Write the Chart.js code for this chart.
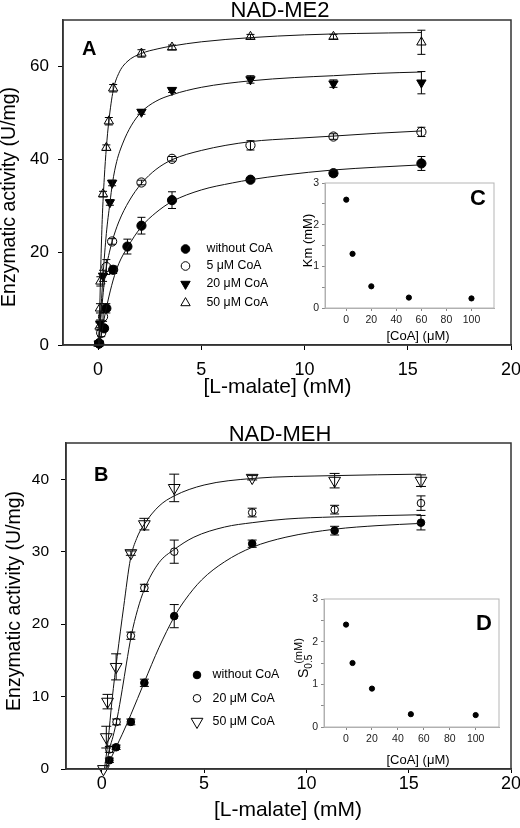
<!DOCTYPE html>
<html>
<head>
<meta charset="utf-8">
<script src="https://cdn.jsdelivr.net/npm/chart.js@4.4.0/dist/chart.umd.min.js"></script>
<style>
  html, body { margin: 0; padding: 0; background: #fff; }
  #wrap { position: relative; width: 520px; height: 828px; overflow: hidden; }
  canvas { position: absolute; }
</style>
</head>
<body>
<div id="wrap">
  <canvas id="chartA" width="520" height="400" style="left:0;top:0"></canvas>
  <canvas id="chartB" width="520" height="418" style="left:0;top:410px"></canvas>
  <canvas id="insetC" width="215" height="175" style="left:290px;top:175px"></canvas>
  <canvas id="insetD" width="215" height="180" style="left:290px;top:590px"></canvas>
</div>
<script>
const FONT = "'Liberation Sans', Arial, sans-serif";
Chart.defaults.font.family = FONT;
Chart.defaults.color = '#000';

// ---- Panel A: NAD-ME2 ----
const xTicksA = [0, 5, 10, 15, 20];
const yTicksA = [0, 20, 40, 60];

// without CoA
const a0X = [0.05, 0.29, 0.40, 0.73, 1.42, 2.1, 3.58, 7.38, 11.4, 15.66];
const a0Y = [0.3, 3.6, 7.9, 16.2, 21.2, 25.7, 31.2, 35.6, 37.0, 39.1];
const a0Err = [0.3, 0.6, 1.0, 0.8, 1.6, 1.8, 1.8, 0.4, 0.6, 1.5];
// 5 uM CoA
const a5X = [0.05, 0.15, 0.24, 0.40, 0.68, 2.1, 3.58, 7.38, 11.4, 15.66];
const a5Y = [0.4, 2.6, 6.1, 16.8, 22.3, 35.0, 40.1, 43.0, 44.9, 45.9];
const a5Err = [0.3, 0.8, 1.0, 1.6, 0.6, 0.5, 0.5, 1.0, 0.6, 1.0];
// 20 uM CoA
const a20X = [0.03, 0.1, 0.24, 0.57, 0.68, 2.1, 3.58, 7.38, 11.4, 15.66];
const a20Y = [0.3, 4.6, 14.9, 30.7, 34.9, 50.2, 54.9, 57.2, 56.3, 56.5];
const a20Err = [0.3, 0.8, 1.2, 0.6, 0.6, 0.5, 0.5, 0.8, 0.8, 2.4];
// 50 uM CoA
const a50X = [0.02, 0.07, 0.09, 0.11, 0.24, 0.40, 0.52, 0.73, 2.1, 3.58, 7.38, 11.4, 15.66];
const a50Y = [0.3, 4.0, 7.9, 13.7, 32.5, 42.5, 48.2, 55.3, 62.8, 64.1, 66.4, 66.4, 65.2];
const a50Err = [0.3, 0.8, 1.0, 1.0, 0.6, 0.6, 0.8, 0.8, 0.8, 0.5, 0.5, 0.5, 2.6];

// fitted curves
const a0FitX = [0.05, 0.15, 0.3, 0.45, 0.73, 1.0, 1.42, 2.1, 2.8, 3.58, 5, 6.5, 7.38, 9, 11.4, 13.5, 15.66];
const a0FitY = [0, 2.0, 5.8, 9.0, 14.0, 17.5, 21.0, 25.5, 28.5, 30.9, 33.4, 34.9, 35.6, 36.6, 37.7, 38.3, 38.8];
const a5FitX = [0.03, 0.1, 0.2, 0.3, 0.4, 0.55, 0.68, 1.0, 1.5, 2.1, 2.8, 3.58, 5, 7.38, 9.5, 11.4, 13.5, 15.66];
const a5FitY = [0, 4, 9, 13.5, 16.8, 20, 22.3, 26.5, 31, 34.8, 37.8, 39.9, 41.9, 43.8, 44.5, 45.0, 45.6, 46.1];
const a20FitX = [0.02, 0.1, 0.24, 0.4, 0.57, 0.7, 0.9, 1.2, 1.6, 2.1, 2.8, 3.58, 5, 7.38, 9.5, 11.4, 13.5, 15.66];
const a20FitY = [0, 5, 15, 24, 30.5, 35, 39.5, 43.5, 47.2, 50.2, 52.5, 53.9, 55.5, 56.9, 57.6, 58.0, 58.5, 58.8];
const a50FitX = [0.02, 0.08, 0.13, 0.2, 0.3, 0.4, 0.52, 0.73, 1.0, 1.4, 2.1, 2.9, 3.58, 5, 7.38, 10, 12.5, 15.66];
const a50FitY = [0, 8, 17, 27, 36, 42.5, 48.2, 54.8, 58.5, 61, 62.8, 63.8, 64.4, 65.3, 66.2, 66.8, 67.1, 67.3];

// ---- Panel B: NAD-MEH ----
const xTicksB = [0, 5, 10, 15, 20];
const yTicksB = [0, 10, 20, 30, 40];

const b0X = [0.37, 0.70, 1.42, 2.08, 3.54, 7.35, 11.38, 15.6];
const b0Y = [1.2, 3.0, 6.5, 11.9, 21.1, 31.1, 32.9, 34.0];
const b0Err = [0.3, 0.3, 0.4, 0.5, 1.6, 0.5, 0.6, 1.0];
const b20X = [0.37, 0.72, 1.42, 2.08, 3.54, 7.35, 11.38, 15.6];
const b20Y = [2.7, 6.5, 18.4, 25.0, 30.0, 35.4, 35.8, 36.7];
const b20Err = [0.4, 0.4, 0.5, 0.5, 1.6, 0.6, 0.6, 1.0];
const b50X = [0.08, 0.22, 0.28, 0.70, 1.42, 2.08, 3.54, 7.35, 11.38, 15.6];
const b50Y = [0, 4.4, 9.3, 14.1, 29.8, 33.8, 38.8, 40.2, 39.8, 39.8];
const b50Err = [0, 1.5, 1.0, 1.8, 0.3, 0.8, 1.9, 0.3, 1.0, 0.8];

const b0FitX = [0.22, 0.5, 0.73, 1.0, 1.42, 2.08, 2.8, 3.54, 4.06, 4.88, 6.0, 7.35, 9, 11.38, 13.5, 15.6];
const b0FitY = [0, 1.8, 3.2, 4.8, 7.5, 12.0, 16.8, 21.0, 23.3, 26.1, 28.6, 30.6, 32.0, 33.1, 33.6, 33.9];
const b20FitX = [0.2, 0.37, 0.55, 0.75, 1.0, 1.2, 1.44, 1.75, 2.08, 2.8, 3.54, 4.5, 6, 7.35, 9, 11.38, 15.6];
const b20FitY = [0, 2.7, 4.5, 7.0, 11, 14.5, 18.4, 22, 24.8, 28.5, 30.3, 32, 33.4, 34.0, 34.5, 34.8, 35.1];
const b50FitX = [0.13, 0.31, 0.5, 0.75, 1.07, 1.40, 1.7, 2.08, 2.8, 3.54, 5, 7.35, 11.38, 15.6];
const b50FitY = [0, 4, 9.5, 15.5, 22.4, 29.0, 31.8, 33.8, 36.3, 37.7, 39.2, 40.1, 40.5, 40.7];

// ---- Insets ----
const coaX = [0, 5, 20, 50, 100];
const kmC = [2.6, 1.3, 0.52, 0.25, 0.23];
const s05D = [2.4, 1.5, 0.9, 0.3, 0.28];
const insetXTicks = [0, 20, 40, 60, 80, 100];
const insetYTicks = [0, 0.5, 1, 1.5, 2, 2.5, 3];

function pairs(xs, ys) {
    return xs.map((x, i) => ({ x: x, y: ys[i] }));
}

function fitLine(xs, ys) {
    return {
        data: pairs(xs, ys),
        showLine: true,
        pointRadius: 0,
        borderColor: '#111',
        borderWidth: 1,
        cubicInterpolationMode: 'monotone'
    };
}

function points(xs, ys, errs, style) {
    return {
        data: pairs(xs, ys),
        errors: errs,
        capWidth: style.cap,
        showLine: false,
        pointStyle: style.shape,
        pointRotation: style.rotation || 0,
        pointRadius: style.radius,
        pointBackgroundColor: style.filled ? '#000' : 'rgba(0,0,0,0)',
        pointBorderColor: '#000',
        pointBorderWidth: 1,
        clip: false
    };
}

// fixes axis size so the plot box lands where the figure has it
function boxAxis(size, horizontal) {
    return function(scale) {
        if (horizontal) {
            scale.height = size;
            scale.paddingLeft = 0;
            scale.paddingRight = 0;
        } else {
            scale.width = size;
            scale.paddingTop = 0;
            scale.paddingBottom = 0;
        }
    };
}

function setTicks(values) {
    return function(scale) {
        scale.ticks = values.map(v => ({ value: v }));
    };
}

const frame = (color, width) => ({
    id: 'frame',
    afterDraw(chart) {
        const a = chart.chartArea, ctx = chart.ctx;
        ctx.save();
        ctx.strokeStyle = color;
        ctx.lineWidth = width;
        ctx.strokeRect(a.left, a.top, a.right - a.left, a.bottom - a.top);
        ctx.restore();
    }
});

const errorBars = {
    id: 'errorBars',
    beforeDatasetsDraw(chart) {
        const ctx = chart.ctx, xs = chart.scales.x, ys = chart.scales.y;
        chart.data.datasets.forEach(ds => {
            if (!ds.errors) return;
            ctx.save();
            ctx.strokeStyle = '#000';
            ctx.lineWidth = 1;
            ds.data.forEach((p, i) => {
                const e = ds.errors[i];
                if (!e) return;
                const px = xs.getPixelForValue(p.x);
                const top = ys.getPixelForValue(p.y + e);
                const bot = ys.getPixelForValue(p.y - e);
                const c = ds.capWidth / 2;
                ctx.beginPath();
                ctx.moveTo(px, top); ctx.lineTo(px, bot);
                ctx.moveTo(px - c, top); ctx.lineTo(px + c, top);
                ctx.moveTo(px - c, bot); ctx.lineTo(px + c, bot);
                ctx.stroke();
            });
            ctx.restore();
        });
    }
};

function textLayer(items) {
    return {
        id: 'textLayer',
        afterDraw(chart) {
            const ctx = chart.ctx;
            items.forEach(it => {
                ctx.save();
                ctx.fillStyle = '#000';
                ctx.font = it.font + ' ' + FONT;
                ctx.textAlign = it.align || 'center';
                ctx.textBaseline = it.baseline || 'alphabetic';
                ctx.translate(it.x, it.y);
                if (it.rotate) ctx.rotate(-Math.PI / 2);
                ctx.fillText(it.text, 0, 0);
                ctx.restore();
            });
        }
    };
}

function markerLegend(items, textX, font) {
    return {
        id: 'markerLegend',
        afterDraw(chart) {
            const ctx = chart.ctx;
            items.forEach(it => {
                ctx.save();
                ctx.fillStyle = it.filled ? '#000' : 'rgba(0,0,0,0)';
                ctx.strokeStyle = '#000';
                ctx.lineWidth = 1;
                Chart.helpers.drawPoint(ctx, {
                    pointStyle: it.shape, radius: it.radius,
                    rotation: it.rotation || 0, borderWidth: 1
                }, it.x, it.y);
                ctx.fillStyle = '#000';
                ctx.font = font + ' ' + FONT;
                ctx.textAlign = 'left';
                ctx.textBaseline = 'middle';
                ctx.fillText(it.label, textX, it.y);
                ctx.restore();
            });
        }
    };
}

function mainOptions(cfg) {
    return {
        responsive: false,
        animation: false,
        layout: { padding: { left: 0, right: cfg.padRight, top: cfg.padTop, bottom: 0 } },
        plugins: { legend: { display: false }, tooltip: { enabled: false }, title: { display: false } },
        scales: {
            x: {
                type: 'linear', min: cfg.xMin, max: cfg.xMax,
                afterBuildTicks: setTicks(cfg.xTicks),
                afterFit: boxAxis(cfg.xHeight, true),
                grid: { drawOnChartArea: false, drawTicks: true, tickLength: cfg.xTickLen, tickColor: '#000', tickWidth: 1 },
                border: { display: true, color: '#333', width: 1.5 },
                ticks: { color: '#000', font: { size: 18 }, padding: cfg.xTickPad, maxRotation: 0, autoSkip: false,
                         callback: v => String(v) }
            },
            y: {
                type: 'linear', min: cfg.yMin, max: cfg.yMax,
                afterBuildTicks: setTicks(cfg.yTicks),
                afterFit: boxAxis(cfg.yWidth, false),
                grid: { drawOnChartArea: false, drawTicks: true, tickLength: 5, tickColor: '#000', tickWidth: 1 },
                border: { display: true, color: '#333', width: 1.5 },
                ticks: { color: '#000', font: { size: cfg.yFont }, padding: cfg.yTickPad, autoSkip: false,
                         callback: v => String(v) }
            }
        }
    };
}

function insetOptions(cfg) {
    return {
        responsive: false,
        animation: false,
        layout: { padding: { left: 0, right: cfg.padRight, top: cfg.padTop, bottom: 0 } },
        plugins: { legend: { display: false }, tooltip: { enabled: false } },
        scales: {
            x: {
                type: 'linear', min: -17, max: 118,
                afterBuildTicks: setTicks(insetXTicks),
                afterFit: boxAxis(cfg.xHeight, true),
                grid: { drawOnChartArea: false, tickLength: 3, tickColor: '#888' },
                border: { display: true, color: '#aaa', width: 1 },
                ticks: { color: '#222', font: { size: 10.5 }, padding: 3, maxRotation: 0, autoSkip: false,
                         callback: v => String(v) }
            },
            y: {
                type: 'linear', min: 0, max: 3,
                afterBuildTicks: setTicks(insetYTicks),
                afterFit: boxAxis(cfg.yWidth, false),
                grid: { drawOnChartArea: false, tickLength: 3, tickColor: '#888' },
                border: { display: true, color: '#aaa', width: 1 },
                ticks: { color: '#222', font: { size: 10.5 }, padding: 3, autoSkip: false,
                         callback: v => Number.isInteger(v) ? String(v) : '' }
            }
        }
    };
}

// ---- chart A ----
new Chart(document.getElementById('chartA'), {
    type: 'scatter',
    data: {
        datasets: [
            fitLine(a0FitX, a0FitY),
            fitLine(a5FitX, a5FitY),
            fitLine(a20FitX, a20FitY),
            fitLine(a50FitX, a50FitY),
            points(a0X, a0Y, a0Err, { shape: 'circle', radius: 4.6, filled: true, cap: 8 }),
            points(a5X, a5Y, a5Err, { shape: 'circle', radius: 4.6, filled: false, cap: 8 }),
            points(a20X, a20Y, a20Err, { shape: 'triangle', rotation: 180, radius: 5.4, filled: true, cap: 8 }),
            points(a50X, a50Y, a50Err, { shape: 'triangle', radius: 5.4, filled: false, cap: 8 })
        ]
    },
    options: mainOptions({
        padRight: 9, padTop: 20, xHeight: 55, yWidth: 63,
        xMin: -1.7, xMax: 20, yMin: 0, yMax: 70,
        xTicks: xTicksA, yTicks: yTicksA,
        xTickLen: 5, xTickPad: 9, yFont: 17, yTickPad: 9
    }),
    plugins: [
        errorBars,
        frame('#333', 1.5),
        textLayer([
            { text: 'NAD-ME2', x: 280, y: 17, font: '22px' },
            { text: 'A', x: 82, y: 55, font: 'bold 20px', align: 'left' },
            { text: 'Enzymatic activity (U/mg)', x: 15, y: 197, font: '19.5px', rotate: true },
            { text: '[L-malate] (mM)', x: 277.5, y: 393, font: '21px' }
        ]),
        markerLegend([
            { label: 'without CoA', shape: 'circle', radius: 4.3, filled: true, x: 185.5, y: 249 },
            { label: '5 μM CoA', shape: 'circle', radius: 4.3, filled: false, x: 185.5, y: 266 },
            { label: '20 μM CoA', shape: 'triangle', rotation: 180, radius: 5.4, filled: true, x: 185.5, y: 284 },
            { label: '50 μM CoA', shape: 'triangle', radius: 5.4, filled: false, x: 185.5, y: 303 }
        ], 206.5, '12.3px')
    ]
});

// ---- chart B ----
new Chart(document.getElementById('chartB'), {
    type: 'scatter',
    data: {
        datasets: [
            fitLine(b0FitX, b0FitY),
            fitLine(b20FitX, b20FitY),
            fitLine(b50FitX, b50FitY),
            points(b0X, b0Y, b0Err, { shape: 'circle', radius: 3.8, filled: true, cap: 9 }),
            points(b20X, b20Y, b20Err, { shape: 'circle', radius: 3.8, filled: false, cap: 9 }),
            points(b50X, b50Y, b50Err, { shape: 'triangle', rotation: 180, radius: 6.8, filled: false, cap: 10 })
        ]
    },
    options: mainOptions({
        padRight: 9, padTop: 33, xHeight: 59, yWidth: 66,
        xMin: -1.75, xMax: 20, yMin: 0, yMax: 45,
        xTicks: xTicksB, yTicks: yTicksB,
        xTickLen: 4, xTickPad: 0, yFont: 15.5, yTickPad: 12
    }),
    plugins: [
        errorBars,
        frame('#333', 1.5),
        textLayer([
            { text: 'NAD-MEH', x: 280, y: 30.7, font: '22px' },
            { text: 'B', x: 94, y: 71, font: 'bold 20px', align: 'left' },
            { text: 'Enzymatic activity (U/mg)', x: 20, y: 191, font: '19.5px', rotate: true },
            { text: '[L-malate] (mM)', x: 288, y: 405.5, font: '21px' }
        ]),
        markerLegend([
            { label: 'without CoA', shape: 'circle', radius: 3.8, filled: true, x: 197, y: 265 },
            { label: '20 μM CoA', shape: 'circle', radius: 3.8, filled: false, x: 197, y: 288.3 },
            { label: '50 μM CoA', shape: 'triangle', rotation: 180, radius: 6.8, filled: false, x: 197, y: 311.7 }
        ], 212.5, '12.4px')
    ]
});

// ---- inset C ----
new Chart(document.getElementById('insetC'), {
    type: 'scatter',
    data: { datasets: [ { data: pairs(coaX, kmC), pointRadius: 2.6, pointBackgroundColor: '#000', pointBorderColor: '#000', clip: false } ] },
    options: insetOptions({ padRight: 11, padTop: 8, xHeight: 42, yWidth: 35 }),
    plugins: [
        frame('#b5b5b5', 1),
        textLayer([
            { text: 'C', x: 188, y: 24, font: 'bold 22px', baseline: 'middle' },
            { text: 'Km (mM)', x: 21.5, y: 65.5, font: '13px', rotate: true },
            { text: '[CoA] (μM)', x: 128, y: 161.7, font: '13px', baseline: 'middle' }
        ])
    ]
});

// ---- inset D ----
const s05Label = {
    id: 's05Label',
    afterDraw(chart) {
        const ctx = chart.ctx;
        ctx.save();
        ctx.translate(18, 88);
        ctx.rotate(-Math.PI / 2);
        ctx.fillStyle = '#000';
        ctx.textAlign = 'left';
        ctx.textBaseline = 'alphabetic';
        ctx.font = '14px ' + FONT;
        ctx.fillText('S', 0, 0);
        const sw = ctx.measureText('S').width;
        ctx.font = '10px ' + FONT;
        ctx.fillText('0.5', sw, 4);
        const subW = ctx.measureText('0.5').width;
        ctx.font = '11px ' + FONT;
        ctx.fillText('(mM)', sw + subW * 0.35, -6);
        ctx.restore();
    }
};

new Chart(document.getElementById('insetD'), {
    type: 'scatter',
    data: { datasets: [ { data: pairs(coaX, s05D), pointRadius: 2.6, pointBackgroundColor: '#000', pointBorderColor: '#000', clip: false } ] },
    options: insetOptions({ padRight: 6, padTop: 9, xHeight: 43, yWidth: 34 }),
    plugins: [
        frame('#b5b5b5', 1),
        s05Label,
        textLayer([
            { text: 'D', x: 194, y: 34, font: 'bold 22px', baseline: 'middle' },
            { text: '[CoA] (μM)', x: 128, y: 170, font: '13px', baseline: 'middle' }
        ])
    ]
});
</script>
</body>
</html>
